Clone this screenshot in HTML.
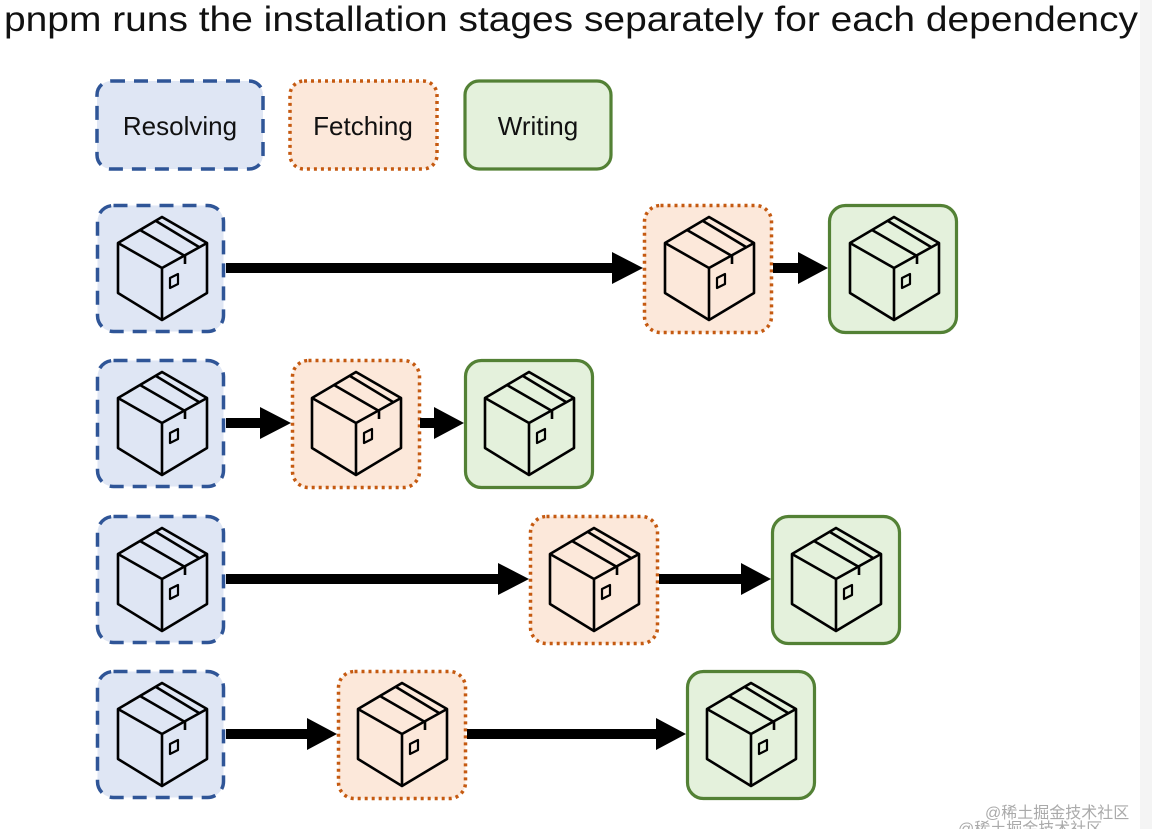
<!DOCTYPE html>
<html><head><meta charset="utf-8"><style>
html,body{margin:0;padding:0;background:#fff;width:1152px;height:829px;overflow:hidden}
svg{display:block}
</style></head><body>
<svg width="1152" height="829" viewBox="0 0 1152 829" xmlns="http://www.w3.org/2000/svg">
<defs>
<g id="cube" fill="none" stroke="#000" stroke-width="2.6" stroke-linejoin="round">
<path d="M0,-51 L45,-25 L45,25 L0,52 L-44,25 L-44,-25 Z"/>
<path d="M-44,-25 L0,0 L45,-25 M0,0 L0,52"/>
<path d="M-22,-38 L23,-12 L23,-4"/>
<path d="M-6,-47 L37,-21"/>
<path d="M8,10 L16,6 L16,16 L8,20 Z" stroke-width="2.2"/>
</g>
<g id="R"><rect x="1.5" y="1.5" width="126" height="126" rx="16" fill="#dfe6f4" stroke="#2f5597" stroke-width="3.5" stroke-dasharray="14,9"/></g>
<g id="F"><rect x="1.5" y="1.5" width="127" height="127" rx="16" fill="#fce8da" stroke="#c55a11" stroke-width="3.5" stroke-dasharray="3,4"/></g>
<g id="W"><rect x="1.5" y="1.5" width="127" height="127" rx="16" fill="#e4f1dc" stroke="#538135" stroke-width="3.2"/></g>
</defs>
<rect x="1140" y="0" width="12" height="829" fill="#f4f4f4"/>
<text x="4" y="31" font-family="Liberation Sans, sans-serif" font-size="35" fill="#111" textLength="1134" lengthAdjust="spacingAndGlyphs">pnpm runs the installation stages separately for each dependency</text>

<!-- legend -->
<rect x="97" y="81" width="166" height="88" rx="14" fill="#dfe6f4" stroke="#2f5597" stroke-width="3.5" stroke-dasharray="14,9"/>
<rect x="290" y="81" width="147" height="88" rx="14" fill="#fce8da" stroke="#c55a11" stroke-width="3.5" stroke-dasharray="3,4"/>
<rect x="465" y="81" width="146" height="88" rx="14" fill="#e4f1dc" stroke="#538135" stroke-width="3.2"/>
<g font-family="Liberation Sans, sans-serif" font-size="26" fill="#111" text-anchor="middle">
<text x="180" y="135">Resolving</text>
<text x="363" y="135">Fetching</text>
<text x="538" y="135">Writing</text>
</g>

<!-- row 1 -->
<use href="#R" x="96" y="204"/><use href="#cube" x="162" y="268"/>
<use href="#F" x="643" y="204"/><use href="#cube" x="709" y="268"/>
<use href="#W" x="828" y="204"/><use href="#cube" x="894" y="268"/>
<!-- row 2 -->
<use href="#R" x="96" y="359"/><use href="#cube" x="162" y="423"/>
<use href="#F" x="291" y="359"/><use href="#cube" x="356" y="423"/>
<use href="#W" x="464" y="359"/><use href="#cube" x="529" y="423"/>
<!-- row 3 -->
<use href="#R" x="96" y="515"/><use href="#cube" x="162" y="579"/>
<use href="#F" x="529" y="515"/><use href="#cube" x="594" y="579"/>
<use href="#W" x="771" y="515"/><use href="#cube" x="836" y="579"/>
<!-- row 4 -->
<use href="#R" x="96" y="670"/><use href="#cube" x="162" y="734"/>
<use href="#F" x="337" y="670"/><use href="#cube" x="402" y="734"/>
<use href="#W" x="686" y="670"/><use href="#cube" x="751" y="734"/>

<!-- arrows -->
<g fill="#000">
<rect x="226" y="263" width="388" height="10"/><path d="M612,252 L643,268 L612,284Z"/>
<rect x="773" y="263" width="28" height="10"/><path d="M798,252 L828,268 L798,284Z"/>
<rect x="226" y="418" width="36" height="10"/><path d="M260,407 L291,423 L260,439Z"/>
<rect x="420" y="418" width="16" height="10"/><path d="M434,407 L464,423 L434,439Z"/>
<rect x="226" y="574" width="274" height="10"/><path d="M498,563 L529,579 L498,595Z"/>
<rect x="659" y="574" width="84" height="10"/><path d="M741,563 L771,579 L741,595Z"/>
<rect x="226" y="729" width="84" height="10"/><path d="M307,718 L337,734 L307,750Z"/>
<rect x="467" y="729" width="192" height="10"/><path d="M656,718 L686,734 L656,750Z"/>
</g>

<g font-family="Liberation Sans, 'Noto Sans CJK SC', sans-serif" font-size="16" fill="#aaa">
<text x="985" y="818">@稀土掘金技术社区</text>
<text x="958" y="834">@稀土掘金技术社区</text>
</g>
</svg>
</body></html>
